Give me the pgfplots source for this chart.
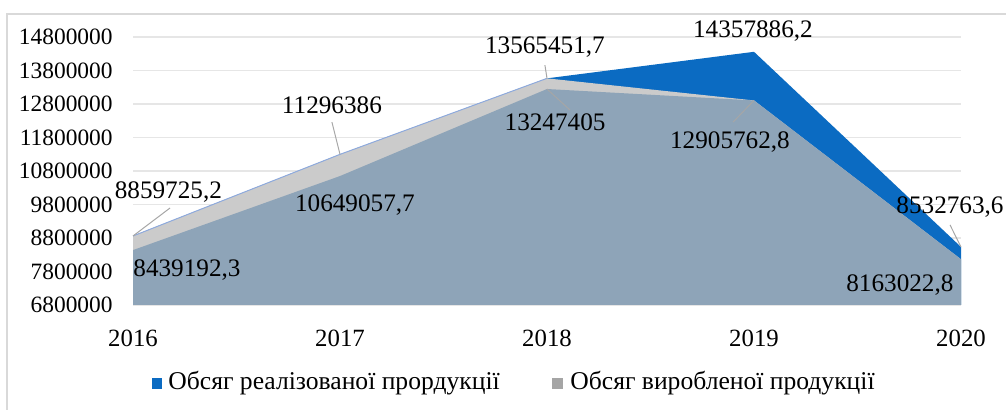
\documentclass[border=0pt]{standalone}
\usepackage{fontspec}
\setmainfont{Liberation Serif}
\usepackage{pgfplots}
\pgfplotsset{compat=1.18}
\definecolor{realb}{HTML}{0B6BC2}
\definecolor{prodg}{HTML}{8EA4B8}
\definecolor{topg}{HTML}{CBCBCB}
\definecolor{gridg}{HTML}{E6E6E6}
\definecolor{frameg}{HTML}{D9D9D9}
\definecolor{edgeb}{HTML}{8FAADC}
\definecolor{leadg}{HTML}{A6A6A6}
\definecolor{legg}{HTML}{A5A5A5}
\newcommand{\yfont}{\fontsize{11.7}{13}\selectfont}
\newcommand{\xfont}{\fontsize{12.4}{14}\selectfont}
\newcommand{\dfont}{\fontsize{12.6}{14}\selectfont}
\newcommand{\lfont}{\fontsize{12.8}{14}\selectfont}

\begin{document}
\begin{tikzpicture}
\useasboundingbox (0,0) rectangle (503pt,205pt);
\draw[frameg, line width=0.6pt] (3.5pt,-5pt) -- (3.5pt,198pt) -- (510pt,198pt);
\begin{axis}[at={(66.5pt,52.5pt)}, anchor=south west, scale only axis,
  width=414pt, height=134pt,
  xmin=2016, xmax=2020, ymin=6800000, ymax=14800000,
  xtick={2016,2017,2018,2019,2020},
  ytick={6800000,7800000,8800000,9800000,10800000,11800000,12800000,13800000,14800000},
  axis line style={draw=none}, major tick style={draw=none},
  ymajorgrids, grid style={gridg, line width=0.8pt},
  clip=false, scaled y ticks=false,
  /pgf/number format/fixed, /pgf/number format/1000 sep={},
  /pgf/number format/assume math mode=true,
  yticklabel style={font=\yfont, anchor=east, inner sep=0pt, xshift=-10pt},
  xticklabel style={font=\xfont, anchor=center, inner sep=0pt, yshift=-16.5pt},
]
% Обсяг реалізованої продукції
\addplot[fill=realb, draw=none] coordinates {(2016,6800000) (2016,8859725.2) (2017,11296386) (2018,13565451.7) (2019,14357886.2) (2020,8532763.6) (2020,6800000)} -- cycle;
% top face of the front series
\addplot[fill=topg, draw=none] coordinates {(2016,6800000) (2016,8859725.2) (2017,11296386) (2018,13565451.7) (2019,12905762.8) (2020,8163022.8) (2020,6800000)} -- cycle;
\addplot[edgeb, line width=0.5pt] coordinates {(2016,8859725.2) (2017,11296386) (2018,13565451.7)};
% Обсяг виробленої продукції
\addplot[fill=prodg, draw=none] coordinates {(2016,6800000) (2016,8439192.3) (2017,10649057.7) (2018,13247405) (2019,12905762.8) (2020,8163022.8) (2020,6800000)} -- cycle;

% data labels
\draw[leadg, line width=0.5pt] (axis cs:2016,8859725.2) -- (axis cs:2016.179,9696000);
\node[font=\dfont, inner sep=0pt] at (axis cs:2016.171,10170000) {8859725,2};
\node[font=\dfont, inner sep=0pt, anchor=west] at (axis cs:2016,7845000) {8439192,3};
\draw[leadg, line width=0.5pt] (axis cs:2017,11296386) -- (axis cs:2016.961,12260000);
\node[font=\dfont, inner sep=0pt] at (axis cs:2016.961,12770000) {11296386};
\node[font=\dfont, inner sep=0pt] at (axis cs:2017.072,9785000) {10649057,7};
\draw[leadg, line width=0.5pt] (axis cs:2018,13565451.7) -- (axis cs:2017.99,13960000);
\node[font=\dfont, inner sep=0pt] at (axis cs:2017.99,14500000) {13565451,7};
\draw[leadg, line width=0.5pt] (axis cs:2018,13247405) -- (axis cs:2018.111,12620000);
\node[font=\dfont, inner sep=0pt] at (axis cs:2018.039,12260000) {13247405};
\node[font=\dfont, inner sep=0pt] at (axis cs:2018.995,14980000) {14357886,2};
\draw[leadg, line width=0.5pt] (axis cs:2019,12905762.8) -- (axis cs:2018.899,12260000);
\node[font=\dfont, inner sep=0pt] at (axis cs:2018.884,11666000) {12905762,8};
\draw[leadg, line width=0.5pt] (axis cs:2020,8532763.6) -- (axis cs:2019.947,9190000);
\node[font=\dfont, inner sep=0pt] at (axis cs:2019.947,9725000) {8532763,6};
\node[font=\dfont, inner sep=0pt] at (axis cs:2019.705,7397000) {8163022,8};
\end{axis}
% legend
\fill[realb] (76pt,10.5pt) rectangle (81pt,16pt);
\node[font=\lfont, anchor=west, inner sep=0pt] at (84pt,13.5pt) {Обсяг реалізованої прордукції};
\fill[legg] (276pt,10.5pt) rectangle (281.5pt,16pt);
\node[font=\lfont, anchor=west, inner sep=0pt] at (285pt,13.5pt) {Обсяг виробленої продукції};
\end{tikzpicture}
\end{document}
